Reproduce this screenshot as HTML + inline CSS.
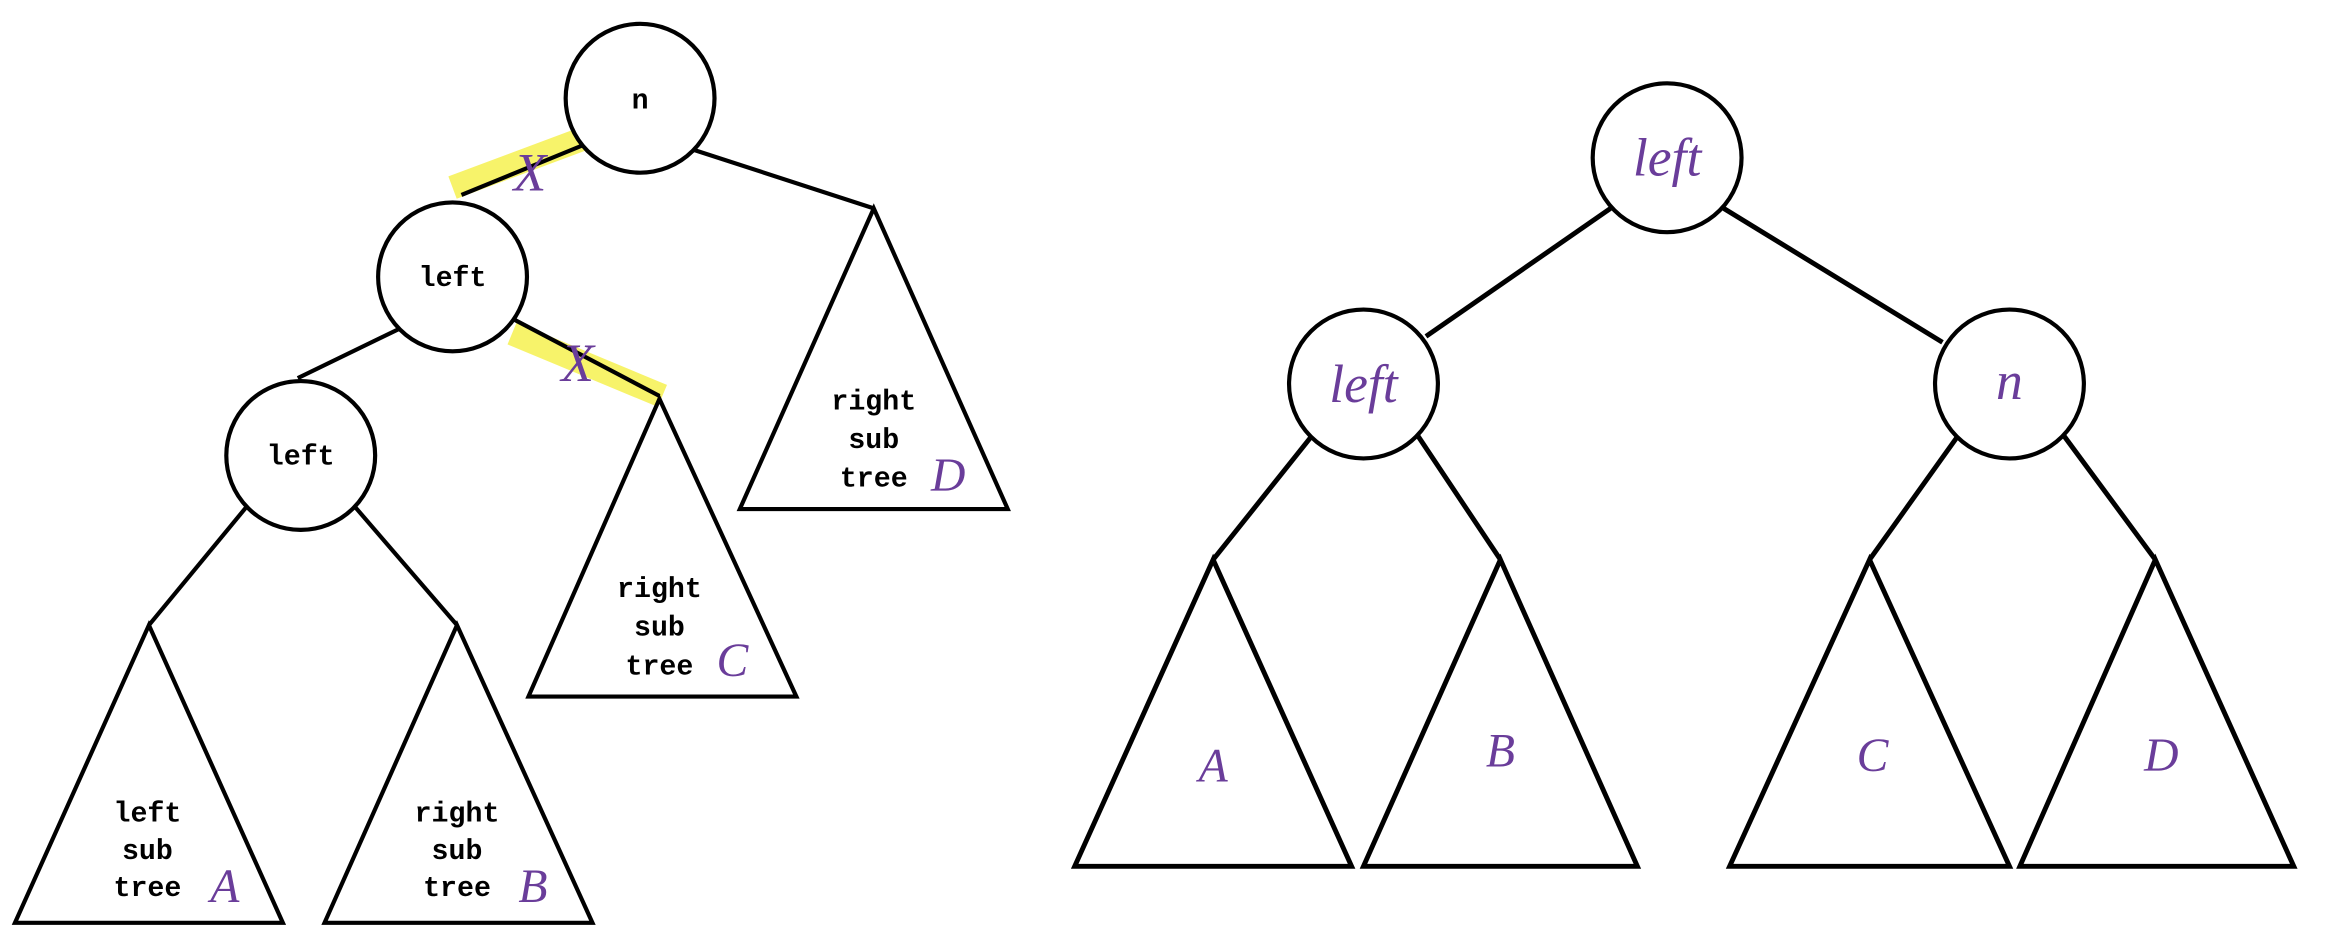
<!DOCTYPE html>
<html><head><meta charset="utf-8"><style>
html,body{margin:0;padding:0;background:#fff;}
svg{display:block;}
.ln{stroke:#000;stroke-width:2.8;fill:none;}
.ln2{stroke:#000;stroke-width:3.3;fill:none;}
.tx{font-family:"Liberation Mono",monospace;font-weight:bold;font-size:19px;text-anchor:middle;fill:#000;}
.pp{font-family:"Liberation Serif",serif;font-style:italic;fill:#6a3d9a;text-anchor:middle;}
</style></head><body>
<svg width="2334" height="934" viewBox="0 0 1568 627.5">
<g>
 <line x1="395" y1="92" x2="304" y2="126" stroke="#f7f36a" stroke-width="16"/>
 <line x1="344" y1="224" x2="445" y2="266" stroke="#f7f36a" stroke-width="16"/>
 <line class="ln" x1="393" y1="97" x2="310" y2="131"/>
 <line class="ln" x1="464" y1="100" x2="587" y2="140"/>
 <line class="ln" x1="344" y1="214" x2="443" y2="266"/>
 <line class="ln" x1="268" y1="221" x2="200" y2="254"/>
 <line class="ln" x1="166" y1="340" x2="100" y2="420"/>
 <line class="ln" x1="238" y1="340" x2="307" y2="420"/>
 <circle class="ln" cx="430" cy="66" r="50" style="fill:#fff"/>
 <circle class="ln" cx="304" cy="186" r="50" style="fill:#fff"/>
 <circle class="ln" cx="202" cy="306" r="50" style="fill:#fff"/>
 <text class="tx" x="430" y="73" font-size="22">n</text>
 <text class="tx" x="304" y="192">left</text>
 <text class="tx" x="202" y="312">left</text>
 <path class="ln" d="M587 140 L677 342 L497 342 Z"/>
 <path class="ln" d="M443 268 L535 468 L355 468 Z"/>
 <path class="ln" d="M100 420 L190 620 L10 620 Z"/>
 <path class="ln" d="M307 420 L398 620 L218 620 Z"/>
 <text class="tx" x="587" y="275"><tspan x="587">right</tspan><tspan x="587" dy="26">sub</tspan><tspan x="587" dy="26">tree</tspan></text>
 <text class="tx" x="443" y="401"><tspan x="443">right</tspan><tspan x="443" dy="26">sub</tspan><tspan x="443" dy="26">tree</tspan></text>
 <text class="tx" x="99" y="552"><tspan x="99">left</tspan><tspan x="99" dy="25">sub</tspan><tspan x="99" dy="25">tree</tspan></text>
 <text class="tx" x="307" y="552"><tspan x="307">right</tspan><tspan x="307" dy="25">sub</tspan><tspan x="307" dy="25">tree</tspan></text>
 <text class="pp" x="637" y="330" font-size="32">D</text>
 <text class="pp" x="492" y="454" font-size="32">C</text>
 <text class="pp" x="151" y="606" font-size="32">A</text>
 <text class="pp" x="358" y="606" font-size="32">B</text>
 <text class="pp" x="356" y="128" font-size="36">X</text>
 <text class="pp" x="388" y="256" font-size="36">X</text>
</g>
<g>
 <line class="ln2" x1="1082" y1="140" x2="958" y2="226"/>
 <line class="ln2" x1="1158" y1="140" x2="1305" y2="230"/>
 <line class="ln2" x1="882" y1="292" x2="815" y2="376"/>
 <line class="ln2" x1="952" y1="292" x2="1008" y2="376"/>
 <line class="ln2" x1="1316" y1="292" x2="1256" y2="376"/>
 <line class="ln2" x1="1386" y1="292" x2="1448" y2="376"/>
 <circle class="ln" cx="1120" cy="106" r="50" style="fill:#fff"/>
 <circle class="ln" cx="916" cy="258" r="50" style="fill:#fff"/>
 <circle class="ln" cx="1350" cy="258" r="50" style="fill:#fff"/>
 <text class="pp" x="1120" y="118" font-size="36">left</text>
 <text class="pp" x="916" y="270" font-size="36">left</text>
 <text class="pp" x="1350" y="268" font-size="36">n</text>
 <path class="ln2" d="M815 376 L908 582 L722 582 Z"/>
 <path class="ln2" d="M1008 376 L1100 582 L916 582 Z"/>
 <path class="ln2" d="M1256 376 L1350 582 L1162 582 Z"/>
 <path class="ln2" d="M1448 376 L1541 582 L1357 582 Z"/>
 <text class="pp" x="815" y="525" font-size="32">A</text>
 <text class="pp" x="1008" y="515" font-size="32">B</text>
 <text class="pp" x="1258" y="518" font-size="32">C</text>
 <text class="pp" x="1452" y="518" font-size="32">D</text>
</g>
</svg>
</body></html>
